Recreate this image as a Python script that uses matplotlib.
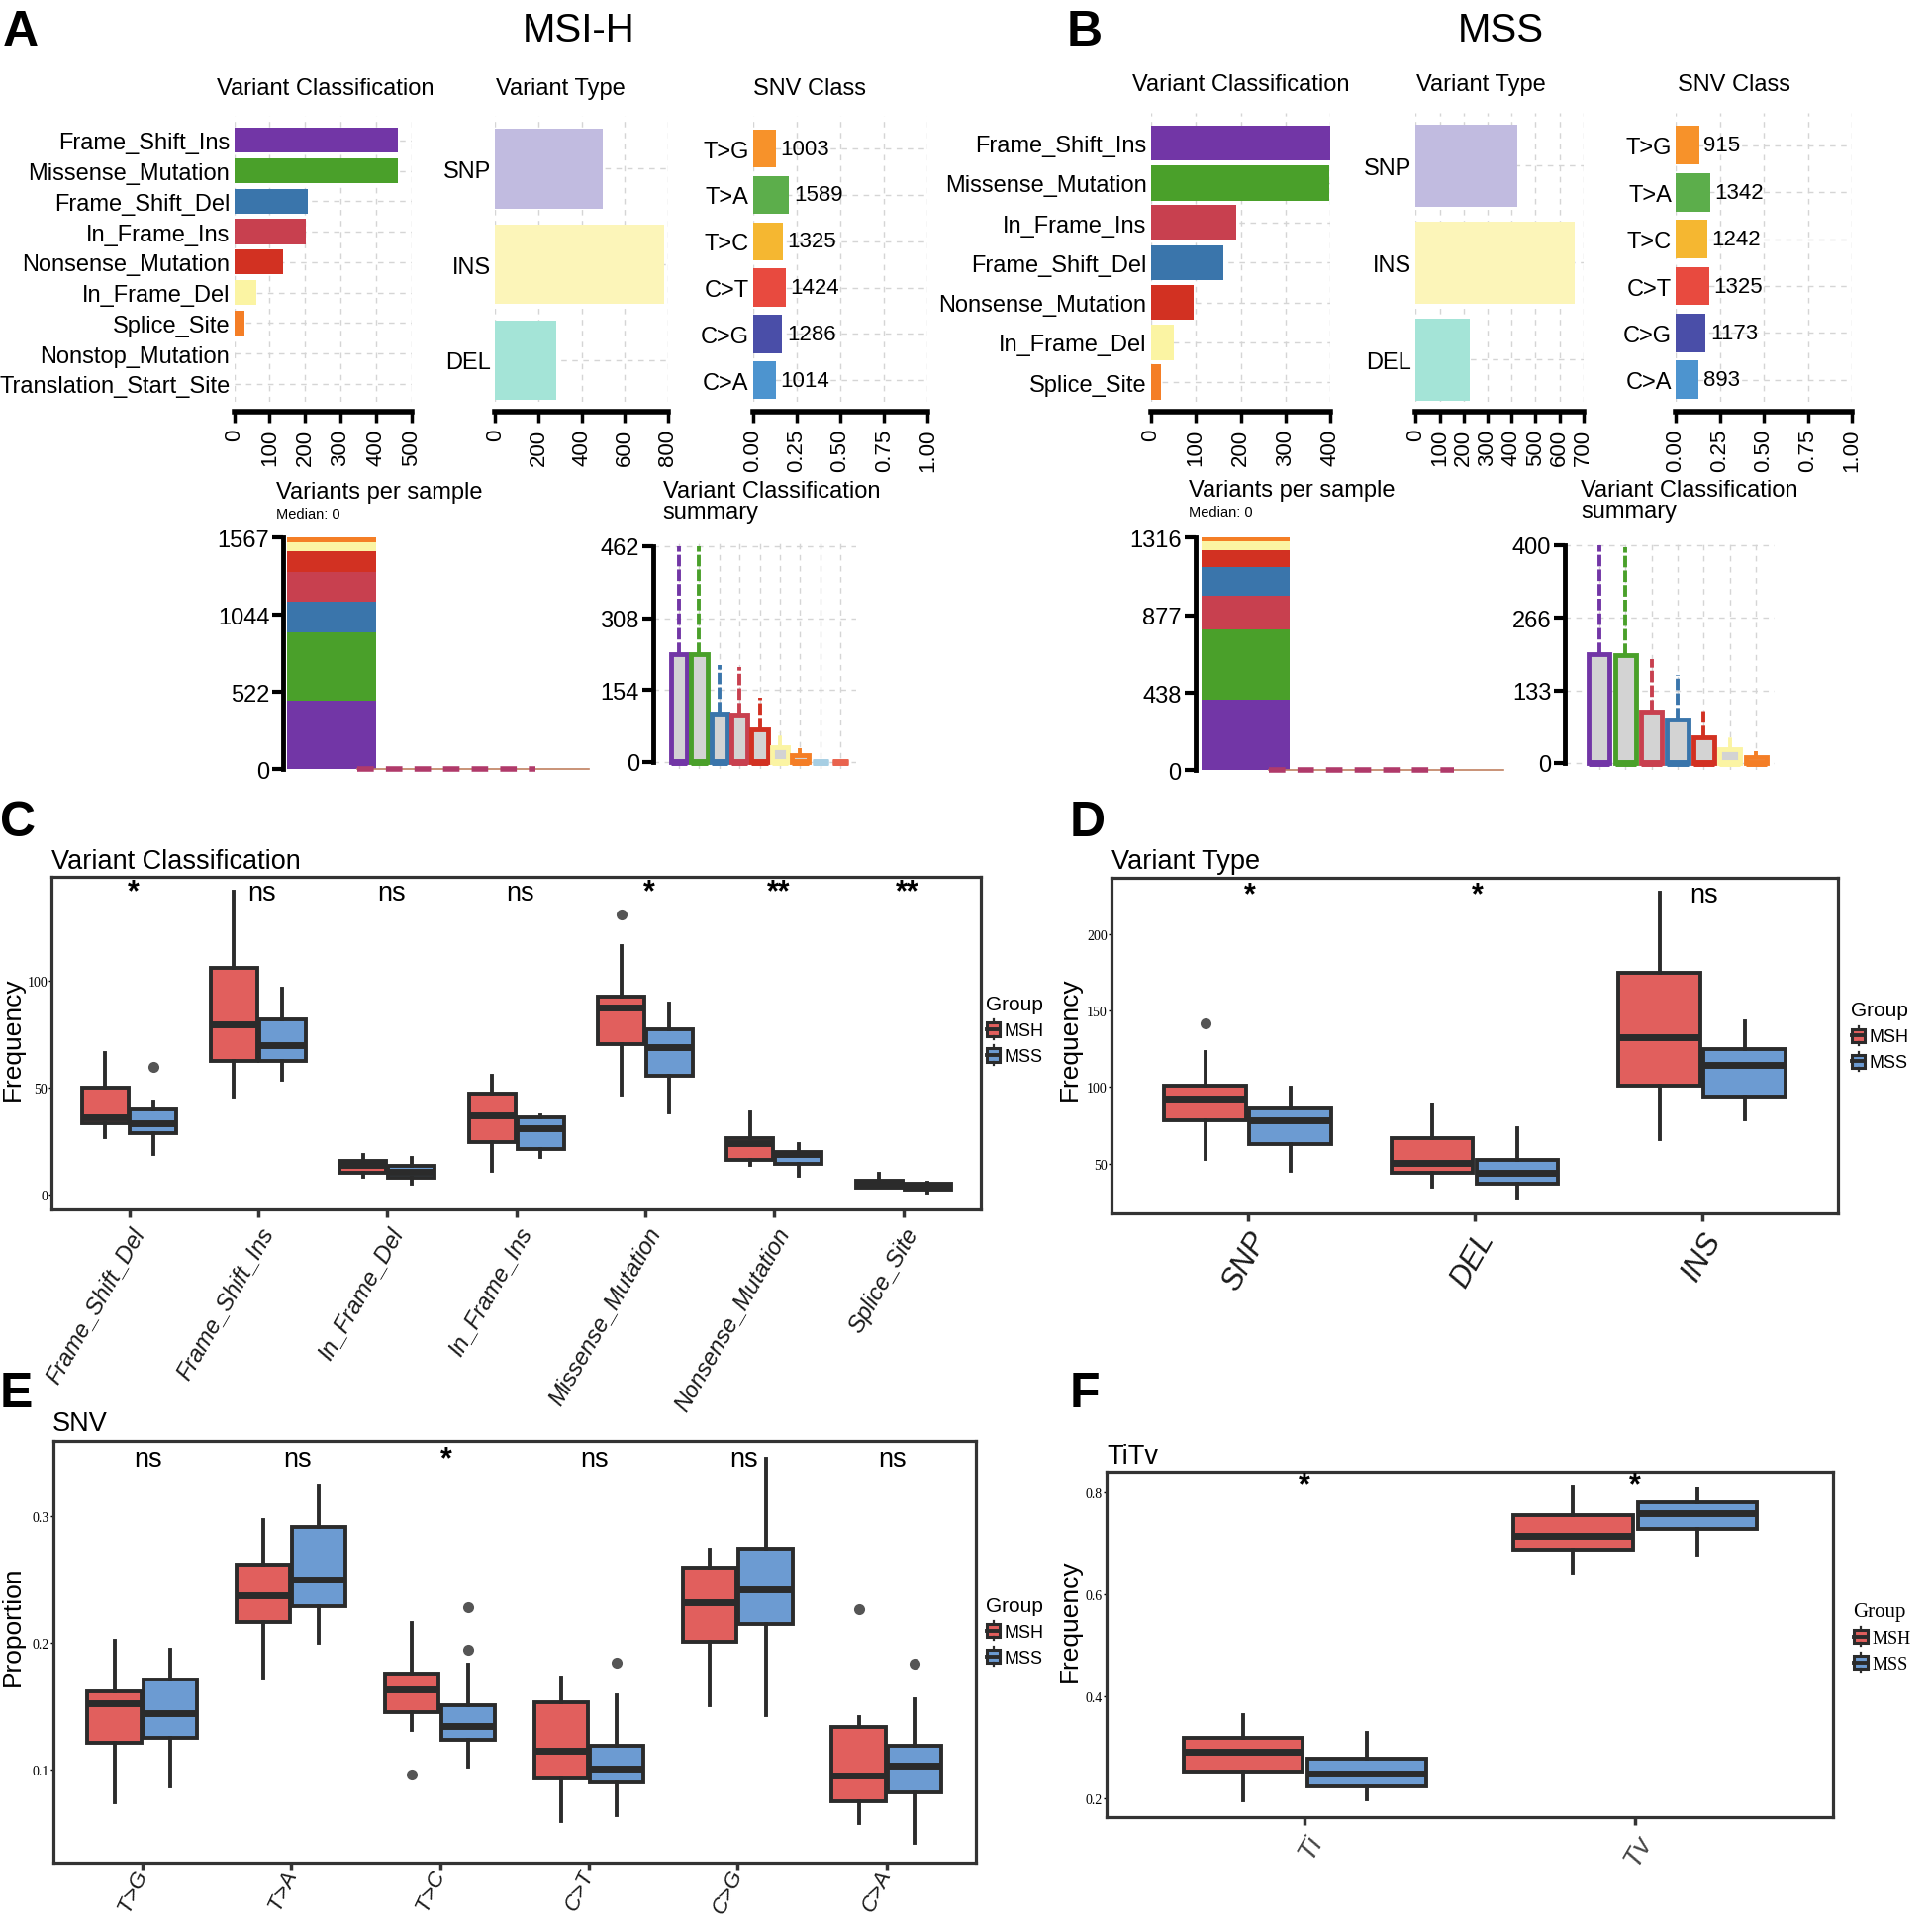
import numpy as np
import matplotlib
matplotlib.use('Agg')
import matplotlib.pyplot as plt
from matplotlib.patches import Patch, Rectangle
from matplotlib.lines import Line2D
from matplotlib.legend_handler import HandlerBase

SANS = ['Liberation Sans', 'DejaVu Sans']
SERIF = ['Liberation Serif', 'DejaVu Serif']
plt.rcParams['font.family'] = SANS

# ---------------- data: panels A / B (maftools summary) ----------------
vc_msi_labels = ['Frame_Shift_Ins', 'Missense_Mutation', 'Frame_Shift_Del', 'In_Frame_Ins',
                 'Nonsense_Mutation', 'In_Frame_Del', 'Splice_Site', 'Nonstop_Mutation',
                 'Translation_Start_Site']
vc_msi_counts = [462, 462, 207, 203, 138, 64, 29, 1, 1]
vc_mss_labels = ['Frame_Shift_Ins', 'Missense_Mutation', 'In_Frame_Ins', 'Frame_Shift_Del',
                 'Nonsense_Mutation', 'In_Frame_Del', 'Splice_Site']
vc_mss_counts = [400, 396, 190, 161, 96, 51, 22]

vt_labels = ['SNP', 'INS', 'DEL']
vt_msi_counts = [500, 783, 284]
vt_mss_counts = [424, 666, 226]

snv_labels = ['T>G', 'T>A', 'T>C', 'C>T', 'C>G', 'C>A']
snv_msi_counts = [1003, 1589, 1325, 1424, 1286, 1014]
snv_mss_counts = [915, 1342, 1242, 1325, 1173, 893]

# variant classification summary boxes (upper quartile / max)
sum_msi_q3 = [231, 231, 104, 101, 69, 32, 15, 0.5, 0.5]
sum_msi_max = [462, 462, 207, 203, 138, 64, 29, 1, 1]
sum_mss_q3 = [200, 198, 95, 80, 48, 26, 11]
sum_mss_max = [400, 396, 190, 161, 96, 51, 22]
tmb_msi_max = 1567
tmb_mss_max = 1316

vc_colors = {'Frame_Shift_Ins': '#7236A6', 'Missense_Mutation': '#4AA02A',
             'Frame_Shift_Del': '#3A75AB', 'In_Frame_Ins': '#C8404F',
             'Nonsense_Mutation': '#D23122', 'In_Frame_Del': '#FBF4A3',
             'Splice_Site': '#F47E26', 'Nonstop_Mutation': '#A6CEE3',
             'Translation_Start_Site': '#E9634E'}
vt_colors = {'SNP': '#C1BBE0', 'INS': '#FCF5B9', 'DEL': '#A4E4D7'}
snv_colors = {'T>G': '#F7922A', 'T>A': '#5CAE4B', 'T>C': '#F5B731',
              'C>T': '#E84A3F', 'C>G': '#4A4EA8', 'C>A': '#4D94CF'}

# ---------------- data: panel C ----------------
c_cats = ['Frame_Shift_Del', 'Frame_Shift_Ins', 'In_Frame_Del', 'In_Frame_Ins',
          'Missense_Mutation', 'Nonsense_Mutation', 'Splice_Site']
c_sig = ['*', 'ns', 'ns', 'ns', '*', '**', '**']
c_msh_lo = [26.8, 45.8, 8.2, 10.8, 46.7, 14.0, 2.9]
c_msh_q1 = [33.3, 62.4, 9.9, 24.4, 70.6, 16.2, 2.9]
c_msh_med = [35.9, 79.8, 14.0, 36.8, 87.5, 24.0, 4.8]
c_msh_q3 = [50.0, 106.0, 15.4, 47.0, 92.8, 26.5, 6.5]
c_msh_hi = [66.3, 141.9, 18.3, 55.6, 116.2, 38.5, 9.4]
c_msh_out = {4: [131.3]}
c_mss_lo = [18.8, 53.5, 4.8, 17.6, 38.5, 8.5, 0.9]
c_mss_q1 = [28.5, 62.4, 7.7, 21.0, 55.6, 14.2, 2.0]
c_mss_med = [33.3, 70.0, 10.3, 30.8, 68.9, 18.8, 3.4]
c_mss_q3 = [39.7, 82.0, 13.2, 35.9, 77.3, 20.0, 4.8]
c_mss_hi = [43.6, 96.2, 17.1, 37.1, 89.4, 23.4, 5.5]
c_mss_out = {0: [59.5]}

# ---------------- data: panel D ----------------
d_cats = ['SNP', 'DEL', 'INS']
d_sig = ['*', '*', 'ns']
d_msh_lo = [52.8, 35.0, 65.7]
d_msh_q1 = [78.0, 44.0, 100.6]
d_msh_med = [92.7, 50.6, 132.5]
d_msh_q3 = [101.0, 66.6, 174.4]
d_msh_hi = [123.2, 88.3, 227.0]
d_msh_out = {0: [141.5]}
d_mss_lo = [45.0, 27.0, 78.6]
d_mss_q1 = [62.5, 37.0, 94.0]
d_mss_med = [78.0, 44.2, 114.2]
d_mss_q3 = [86.0, 52.6, 124.6]
d_mss_hi = [99.5, 73.3, 142.9]
d_mss_out = {}

# ---------------- data: panel E ----------------
e_cats = ['T>G', 'T>A', 'T>C', 'C>T', 'C>G', 'C>A']
e_sig = ['ns', 'ns', '*', 'ns', 'ns', 'ns']
e_msh_lo = [0.0744, 0.1721, 0.1310, 0.0599, 0.1511, 0.0577]
e_msh_q1 = [0.1215, 0.2166, 0.1452, 0.0927, 0.2004, 0.0752]
e_msh_med = [0.1520, 0.2376, 0.1633, 0.1151, 0.2319, 0.0954]
e_msh_q3 = [0.1614, 0.2618, 0.1756, 0.1533, 0.2591, 0.1336]
e_msh_hi = [0.2018, 0.2965, 0.2157, 0.1729, 0.2731, 0.1412]
e_msh_out = {2: [0.0962], 5: [0.226]}
e_mss_lo = [0.0868, 0.1996, 0.1022, 0.0645, 0.1431, 0.0424]
e_mss_q1 = [0.1250, 0.2287, 0.1237, 0.0900, 0.2144, 0.0825]
e_mss_med = [0.1444, 0.2497, 0.1345, 0.1008, 0.2416, 0.1035]
e_mss_q3 = [0.1713, 0.2911, 0.1506, 0.1191, 0.2736, 0.1191]
e_mss_hi = [0.1945, 0.3242, 0.1824, 0.1587, 0.3452, 0.1552]
e_mss_out = {2: [0.1945, 0.2279], 3: [0.1843], 5: [0.1834]}

# ---------------- data: panel F ----------------
f_cats = ['Ti', 'Tv']
f_sig = ['*', '*']
f_msh_lo = [0.1955, 0.643]
f_msh_q1 = [0.2522, 0.6884]
f_msh_med = [0.2923, 0.7152]
f_msh_q3 = [0.3177, 0.7552]
f_msh_hi = [0.3625, 0.812]
f_msh_out = {}
f_mss_lo = [0.1975, 0.6784]
f_mss_q1 = [0.2242, 0.7285]
f_mss_med = [0.2489, 0.7599]
f_mss_q3 = [0.2776, 0.7813]
f_mss_hi = [0.329, 0.8087]
f_mss_out = {}

RED = '#E15F5D'
BLUE = '#6C9BD2'
EDGE = '#2B2B2B'

# ---------------- figure helpers ----------------
W, H = 1568, 1558
fig = plt.figure(figsize=(19.52, 19.40), dpi=100)


def fx(x):
    return x / W


def fy(y):
    return 1 - y / H


def add_ax(x0, y0, x1, y1):
    return fig.add_axes([fx(x0), fy(y1), fx(x1) - fx(x0), fy(y0) - fy(y1)])


def ftext(x, y, s, **kw):
    kw.setdefault('va', 'baseline')
    return fig.text(fx(x), fy(y), s, **kw)


def thirds(m):
    return [0, int(m / 3), int(2 * m / 3), m]


def top_bar(box, labels, values, colors, xmax, ticks, tlabels, pads, height, vlabels=None):
    ax = add_ax(*box)
    for s in ['top', 'right', 'left']:
        ax.spines[s].set_visible(False)
    ax.spines['bottom'].set_linewidth(4)
    ax.spines['bottom'].set_position(('outward', 7))
    n = len(labels)
    pos = np.arange(n)
    ax.barh(pos, values, height=height, color=colors, zorder=3)
    ax.set_ylim(n - 1 + pads[1], -pads[0])
    ax.set_xlim(0, xmax)
    ax.set_xticks(ticks)
    ax.set_xticklabels(tlabels, rotation=90, fontsize=16, va='top', ha='center')
    ax.set_yticks(pos)
    ax.set_yticklabels(labels, fontsize=17)
    ax.tick_params(axis='y', length=0, pad=3)
    ax.tick_params(axis='x', length=8, width=2.5, pad=4)
    ax.grid(True, ls=(0, (4, 4)), color='#D5D5D5', lw=1, zorder=0)
    ax.set_axisbelow(True)
    if vlabels is not None:
        for p, v, t in zip(pos, values, vlabels):
            ax.text(v + 0.025 * xmax, p, t, fontsize=16, va='center', ha='left', zorder=4)
    return ax


def tmb_panel(box, labels, counts, colors, ymax, xl, dash_rng, line_end):
    ax = add_ax(*box)
    bottom = 0
    for lab, c in zip(labels, counts):
        ax.bar(0, c, bottom=bottom, width=0.9, color=colors[lab], zorder=3)
        bottom += c
    ax.plot(dash_rng, [0, 0], color='#B03A6A', lw=4, ls=(0, (3, 2.2)), zorder=4,
            solid_capstyle='butt', clip_on=False)
    ax.plot([dash_rng[0], line_end], [0, 0], color='#C08060', lw=1.2, zorder=3, clip_on=False)
    ax.set_xlim(*xl)
    ax.set_ylim(0, ymax)
    ticks = thirds(ymax)
    ax.set_yticks(ticks)
    ax.set_yticklabels([str(t) for t in ticks], fontsize=17)
    ax.set_xticks([])
    for s in ['top', 'right', 'bottom']:
        ax.spines[s].set_visible(False)
    ax.spines['left'].set_linewidth(3.5)
    ax.spines['left'].set_bounds(0, ymax)
    ax.tick_params(axis='y', length=8, width=3, pad=2)
    return ax


def summary_panel(box, labels, q3s, maxs, colors, xl, yl):
    ax = add_ax(*box)
    n = len(labels)
    pos = np.arange(n)
    for i, lab in enumerate(labels):
        col = colors[lab]
        st = [dict(whislo=0, q1=0, med=0, q3=q3s[i], whishi=maxs[i], fliers=[])]
        ax.bxp(st, positions=[pos[i]], widths=0.8, patch_artist=True, showcaps=False,
               showfliers=False, manage_ticks=False,
               boxprops=dict(facecolor='#D3D3D3', edgecolor=col, linewidth=3.5),
               medianprops=dict(color=col, linewidth=5),
               whiskerprops=dict(color=col, linewidth=2.8, ls=(0, (3, 0.8))),
               zorder=3)
    ax.set_xlim(*xl)
    ax.set_ylim(*yl)
    ymax = maxs[0]
    ticks = thirds(ymax)
    ax.set_yticks(ticks)
    ax.set_yticklabels([str(t) for t in ticks], fontsize=17)
    ax.set_xticks(pos)
    ax.set_xticklabels([])
    ax.tick_params(axis='x', length=0)
    ax.tick_params(axis='y', length=8, width=3, pad=2)
    for s in ['top', 'right', 'bottom']:
        ax.spines[s].set_visible(False)
    ax.spines['left'].set_linewidth(3.5)
    ax.spines['left'].set_bounds(0, ymax)
    ax.grid(True, ls=(0, (4, 4)), color='#D5D5D5', lw=1, zorder=0)
    ax.set_axisbelow(True)
    return ax


def group_panel(box, cats, msh, mss, msh_out, mss_out, xl, yl, yticks, ytl, sig, sig_y,
                sig_dx, xfs, rot=60, xcolor='#1A1A1A', xpad=4, xva='top', xlen=6):
    ax = add_ax(*box)
    pos = np.arange(1, len(cats) + 1)
    for arr, outs, off, col in [(msh, msh_out, -0.1875, RED), (mss, mss_out, 0.1875, BLUE)]:
        stats = []
        for i in range(len(cats)):
            stats.append(dict(whislo=arr[0][i], q1=arr[1][i], med=arr[2][i], q3=arr[3][i],
                              whishi=arr[4][i], fliers=outs.get(i, [])))
        ax.bxp(stats, positions=pos + off, widths=0.36, patch_artist=True, showcaps=False,
               manage_ticks=False,
               boxprops=dict(facecolor=col, edgecolor=EDGE, linewidth=2.8),
               medianprops=dict(color=EDGE, linewidth=5, solid_capstyle='butt'),
               whiskerprops=dict(color=EDGE, linewidth=2.8),
               flierprops=dict(marker='o', markerfacecolor='#555555', markeredgecolor='none',
                               markersize=8))
    ax.set_xlim(*xl)
    ax.set_ylim(*yl)
    ax.set_xticks(pos)
    ax.set_xticklabels(cats, rotation=rot, ha='right', va=xva, rotation_mode='anchor',
                       fontsize=xfs, style='italic', color=xcolor)
    ax.set_yticks(yticks)
    ax.set_yticklabels(ytl, fontsize=10, family=SERIF)
    ax.tick_params(axis='x', length=xlen, width=2.5, color='#333333', pad=xpad)
    ax.tick_params(axis='y', length=2, width=1, pad=1)
    for s in ax.spines.values():
        s.set_linewidth(2.3)
        s.set_color('#333333')
    for p, s in zip(pos, sig):
        if '*' in s:
            ax.text(p + sig_dx, sig_y, s, fontsize=22, ha='center', va='center',
                    fontweight='bold')
        else:
            ax.text(p + sig_dx, sig_y, s, fontsize=19.5, ha='center', va='center')
    return ax


class BoxKey(HandlerBase):
    def create_artists(self, legend, orig_handle, xdescent, ydescent, width, height,
                       fontsize, trans):
        fc = orig_handle.get_facecolor()
        x0 = -xdescent + 0.05 * width
        y0 = -ydescent
        bw = 0.9 * width
        r = Rectangle((x0, y0 + 0.12 * height), bw, 0.76 * height, facecolor=fc,
                      edgecolor=EDGE, lw=2.2, transform=trans)
        m = Line2D([x0, x0 + bw], [y0 + 0.5 * height] * 2, color=EDGE, lw=2.8,
                   transform=trans)
        wu = Line2D([x0 + bw / 2] * 2, [y0 + 0.88 * height, y0 + 1.05 * height],
                    color=EDGE, lw=1.6, transform=trans)
        wl = Line2D([x0 + bw / 2] * 2, [y0 - 0.05 * height, y0 + 0.12 * height],
                    color=EDGE, lw=1.6, transform=trans)
        return [r, m, wu, wl]


def group_legend(x, y, serif=False):
    fam = SERIF if serif else SANS
    hs = [Patch(facecolor=RED), Patch(facecolor=BLUE)]
    lg = fig.legend(hs, ['MSH', 'MSS'], loc='upper left', bbox_to_anchor=(fx(x), fy(y)),
                    frameon=False, handler_map={Patch: BoxKey()},
                    handlelength=0.85, handleheight=1.1, handletextpad=0.2, labelspacing=0.4,
                    borderpad=0, borderaxespad=0, title='Group', alignment='left',
                    prop=dict(family=fam, size=13), title_fontproperties=dict(family=fam, size=15))
    return lg


# ================= Panel A (MSI-H) =================
ftext(2, 37, 'A', fontsize=36, fontweight='bold')
ftext(470, 34, 'MSI-H', fontsize=29, ha='center')
ftext(264, 77, 'Variant Classification', fontsize=17, ha='center')
ftext(455, 77, 'Variant Type', fontsize=17, ha='center')
ftext(657, 77, 'SNV Class', fontsize=17, ha='center')

top_bar((190, 95, 334, 327), vc_msi_labels, vc_msi_counts,
        [vc_colors[l] for l in vc_msi_labels], 500, [0, 100, 200, 300, 400, 500],
        ['0', '100', '200', '300', '400', '500'], (0.8, 0.6), 0.82)
top_bar((402, 95, 542, 327), vt_labels, vt_msi_counts, [vt_colors[l] for l in vt_labels],
        800, [0, 200, 400, 600, 800], ['0', '200', '400', '600', '800'], (0.55, 0.44), 0.83)
msi_frac = np.array(snv_msi_counts) / np.sum(snv_msi_counts)
top_bar((611, 95, 753, 327), snv_labels, msi_frac, [snv_colors[l] for l in snv_labels],
        1.0, [0, 0.25, 0.5, 0.75, 1.0], ['0.00', '0.25', '0.50', '0.75', '1.00'],
        (0.7, 0.47), 0.82, vlabels=[str(v) for v in snv_msi_counts])

ftext(224, 405, 'Variants per sample', fontsize=17)
ftext(224, 421, 'Median: 0', fontsize=10.5)
tmb_panel((230, 437, 480, 625), vc_msi_labels, vc_msi_counts, vc_colors, tmb_msi_max,
          (-0.4875, 2.64), [0.26, 2.075], 2.61)
ftext(538, 404, 'Variant Classification', fontsize=17)
ftext(538, 421, 'summary', fontsize=17)
summary_panel((530, 440, 695, 625), vc_msi_labels, sum_msi_q3, sum_msi_max, vc_colors,
              (-1.28, 8.78), (-15.8, 472.6))

# ================= Panel B (MSS) =================
ftext(866, 37, 'B', fontsize=36, fontweight='bold')
ftext(1218, 34, 'MSS', fontsize=29, ha='center')
ftext(1007, 74, 'Variant Classification', fontsize=17, ha='center')
ftext(1202, 74, 'Variant Type', fontsize=17, ha='center')
ftext(1407, 74, 'SNV Class', fontsize=17, ha='center')

top_bar((934, 92, 1080, 327), vc_mss_labels, vc_mss_counts,
        [vc_colors[l] for l in vc_mss_labels], 400, [0, 100, 200, 300, 400],
        ['0', '100', '200', '300', '400'], (0.77, 0.5), 0.88)
top_bar((1149, 92, 1285, 327), vt_labels, vt_mss_counts, [vt_colors[l] for l in vt_labels],
        700, [0, 100, 200, 300, 400, 500, 600, 700],
        ['0', '100', '200', '300', '400', '500', '600', '700'], (0.55, 0.44), 0.85)
mss_frac = np.array(snv_mss_counts) / np.sum(snv_mss_counts)
top_bar((1360, 92, 1503, 327), snv_labels, mss_frac, [snv_colors[l] for l in snv_labels],
        1.0, [0, 0.25, 0.5, 0.75, 1.0], ['0.00', '0.25', '0.50', '0.75', '1.00'],
        (0.7, 0.47), 0.82, vlabels=[str(v) for v in snv_mss_counts])

ftext(965, 403, 'Variants per sample', fontsize=17)
ftext(965, 419, 'Median: 0', fontsize=10.5)
tmb_panel((970, 437, 1225, 626), vc_mss_labels, vc_mss_counts, vc_colors, tmb_mss_max,
          (-0.5125, 2.675), [0.24, 2.11], 2.61)
ftext(1283, 403, 'Variant Classification', fontsize=17)
ftext(1283, 420, 'summary', fontsize=17)
summary_panel((1270, 440, 1440, 626), vc_mss_labels, sum_mss_q3, sum_mss_max, vc_colors,
              (-1.32, 6.7), (-13.6, 406.8))

# ================= Panel C =================
ftext(0, 679, 'C', fontsize=36, fontweight='bold')
ftext(42, 705, 'Variant Classification', fontsize=19.5)
group_panel((42, 712, 796, 982), c_cats,
            [c_msh_lo, c_msh_q1, c_msh_med, c_msh_q3, c_msh_hi],
            [c_mss_lo, c_mss_q1, c_mss_med, c_mss_q3, c_mss_hi],
            c_msh_out, c_mss_out, (0.4, 7.6), (-7, 149), [0, 50, 100], ['0', '50', '100'],
            c_sig, 141.5, 0.03, 17)
fig.text(fx(10), fy(843), 'Frequency', rotation=90, fontsize=19, ha='center', va='center')
group_legend(800, 808)

# ================= Panel D =================
ftext(868, 679, 'D', fontsize=36, fontweight='bold')
ftext(902, 705, 'Variant Type', fontsize=19.5)
group_panel((902, 713, 1492, 985), d_cats,
            [d_msh_lo, d_msh_q1, d_msh_med, d_msh_q3, d_msh_hi],
            [d_mss_lo, d_mss_q1, d_mss_med, d_mss_q3, d_mss_hi],
            d_msh_out, d_mss_out, (0.4, 3.6), (17.7, 237), [50, 100, 150, 200],
            ['50', '100', '150', '200'], d_sig, 226, 0.01, 22)
fig.text(fx(868), fy(843), 'Frequency', rotation=90, fontsize=19, ha='center', va='center')
group_legend(1502, 813)

# ================= Panel E =================
ftext(0, 1142, 'E', fontsize=36, fontweight='bold')
ftext(42, 1161, 'SNV', fontsize=19.5)
group_panel((43, 1170, 792, 1512), e_cats,
            [e_msh_lo, e_msh_q1, e_msh_med, e_msh_q3, e_msh_hi],
            [e_mss_lo, e_mss_q1, e_mss_med, e_mss_q3, e_mss_hi],
            e_msh_out, e_mss_out, (0.4, 6.6), (0.027, 0.359), [0.1, 0.2, 0.3],
            ['0.1', '0.2', '0.3'], e_sig, 0.345, 0.04, 16, rot=65, xpad=1,
            xva='center', xlen=5)
fig.text(fx(10), fy(1320), 'Proportion', rotation=90, fontsize=19, ha='center', va='center')
group_legend(800, 1296)

# ================= Panel F =================
ftext(868, 1142, 'F', fontsize=36, fontweight='bold')
ftext(898, 1188, 'TiTv', fontsize=19.5)
group_panel((898, 1195, 1488, 1475), f_cats,
            [f_msh_lo, f_msh_q1, f_msh_med, f_msh_q3, f_msh_hi],
            [f_mss_lo, f_mss_q1, f_mss_med, f_mss_q3, f_mss_hi],
            f_msh_out, f_mss_out, (0.4, 2.6), (0.164, 0.841), [0.2, 0.4, 0.6, 0.8],
            ['0.2', '0.4', '0.6', '0.8'], f_sig, 0.815, 0.0, 20, xcolor='#444444')
fig.text(fx(868), fy(1315), 'Frequency', rotation=90, fontsize=19, ha='center', va='center')
group_legend(1504, 1301, serif=True)

fig.savefig('out.png', dpi=100)
